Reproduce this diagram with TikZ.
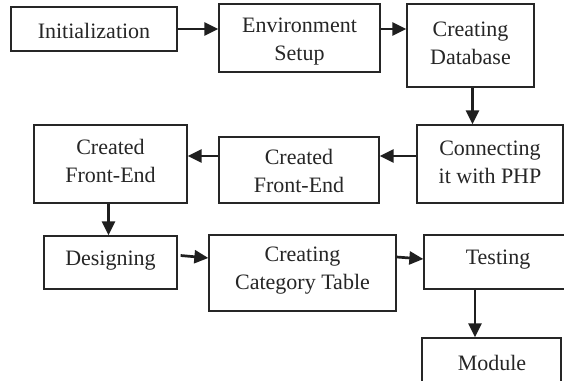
\documentclass[tikz,border=0pt]{standalone}
\usepackage{fontspec}
\setmainfont{Liberation Serif}
\usetikzlibrary{arrows.meta}
\begin{document}
\begin{tikzpicture}[x=0.5pt,y=-0.5pt,
  box/.style={draw=black!85, line width=0.65pt, inner sep=0pt},
  txt/.style={inner sep=0pt, align=center, font=\fontsize{11}{14}\selectfont, text=black!85},
  arr/.style={line width=1.35pt, draw=black!88, -{Triangle[length=7pt,width=6.5pt]}}]
\useasboundingbox (0,0) rectangle (564,381);
\clip (0,0) rectangle (564,381);
\fill[white] (0,0) rectangle (564,381);
% boxes
\node[box, minimum width=83pt, minimum height=22pt] (init) at (94,29) {};
\node[box, minimum width=80.5pt, minimum height=34pt] (env) at (299.5,38) {};
\node[box, minimum width=63.5pt, minimum height=41.5pt] (cdb) at (470.5,45.5) {};
\node[box, minimum width=73pt, minimum height=39pt] (conn) at (490,164) {};
\node[box, minimum width=80pt, minimum height=33pt] (mfe) at (299,170) {};
\node[box, minimum width=76.5pt, minimum height=39pt] (lfe) at (110.5,164) {};
\node[box, minimum width=66.5pt, minimum height=26.5pt] (des) at (110.5,262.5) {};
\node[box, minimum width=93.5pt, minimum height=38pt] (cat) at (302.5,273) {};
\node[box, minimum width=76pt, minimum height=27pt] (test) at (500,262) {};
\node[box, minimum width=69.5pt, minimum height=28pt] (mod) at (491.5,366) {};
% texts
\node[txt] (tinit) at (94,31) {Initialization};
\node[txt] (tenv) at (299.5,42) {Environment\\Setup};
\node[txt] (tcdb) at (470.5,43) {Creating\\Database};
\node[txt] (tconn) at (490,162) {Connecting\\it with PHP};
\node[txt] (tmfe) at (299,171) {Created\\Front-End};
\node[txt] (tlfe) at (110.5,161) {Created\\Front-End};
\node[txt] (tdes) at (110.5,261) {Designing};
\node[txt] (tcat) at (302.5,271) {Creating\\Category Table};
\node[txt] (ttest) at (498,260) {Testing};
\node[txt] (tmod) at (492,363) {Module};
% connectors
\draw[arr] (init.east) -- (init.east -| env.west);
\draw[arr] (env.east |- init) -- (cdb.west |- init);
\draw[arr] ([xshift=1pt]cdb.south) -- ([xshift=1pt]cdb.south |- conn.north);
\draw[arr] ([yshift=4pt]conn.west) -- ([yshift=4pt]conn.west -| mfe.east);
\draw[arr] ([yshift=4pt]conn.west -| mfe.west) -- ([yshift=4pt]conn.west -| lfe.east);
\draw[arr] ([xshift=-1pt]lfe.south) -- ([xshift=-1pt]lfe.south |- des.north);
\draw[arr] ([xshift=1.5pt,yshift=3.5pt]des.east) -- ([yshift=7.5pt]cat.west);
\draw[arr] ([yshift=8pt]cat.east) -- ([yshift=1.5pt]test.west);
\draw[arr] ([xshift=-12.5pt]test.south) -- ([xshift=-12.5pt]test.south |- mod.north);
\end{tikzpicture}
\end{document}
